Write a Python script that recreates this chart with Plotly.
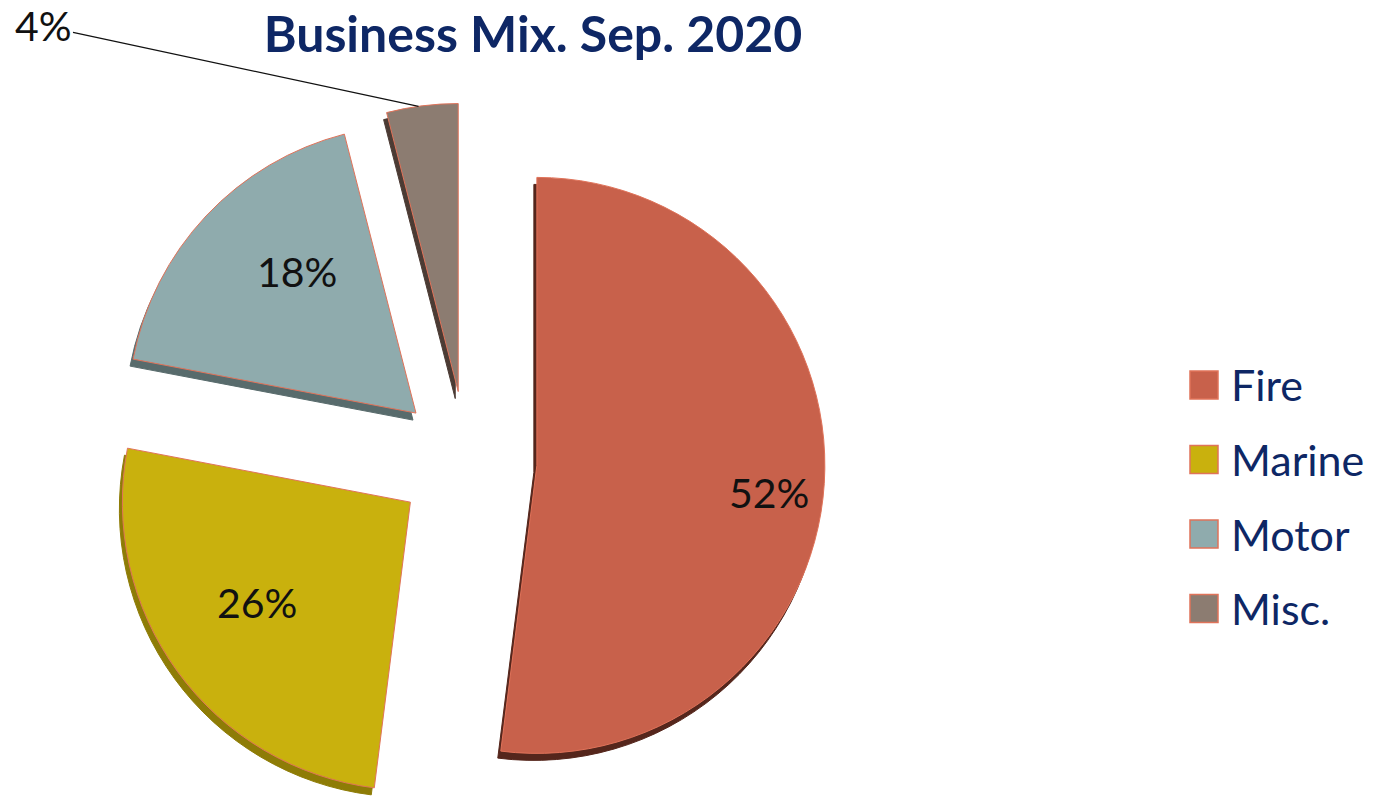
import math
import plotly.graph_objects as go

# Business mix by class of insurance, September 2020 (share of premium, %)
labels = ["Fire", "Marine", "Motor", "Misc."]
shares = [52, 26, 18, 4]
face_colors = ["#C8614B", "#C9B10D", "#8FABAD", "#8C7C71"]
side_colors = ["#55261C", "#8E7C06", "#586B6C", "#4B3B34"]
edge_color = "#E0735A"
navy = "#0E2765"
clear = "rgba(0,0,0,0)"

W, H = 1386, 798
CX, CY = 467, 461          # centre of the un-exploded pie, px from top-left
R = 288                    # slice radius, px
EXPLODE = 70               # distance each slice is pulled out, px
DEPTH = (-3, 7)            # offset of the extruded side, px
LABEL_R = 0.81             # radial position of the value labels

total = sum(shares)
starts, mids = [], []
acc = 0.0
for v in shares:
    starts.append(acc / total * 360)
    mids.append((acc + v / 2) / total * 360)
    acc += v


def apex(i):
    a = math.radians(mids[i])
    return CX + EXPLODE * math.sin(a), CY - EXPLODE * math.cos(a)


def box(cx, cy):
    return dict(x=[(cx - R) / W, (cx + R) / W],
                y=[max(0.0, 1 - (cy + R) / H), min(1.0, 1 - (cy - R) / H)])


fig = go.Figure()

# each slice is its own pie so it can be pushed out from the common centre;
# a darker copy drawn first gives the slices some thickness
for layer, cols, line_col, dx, dy in (
    ("side", side_colors, None, DEPTH[0], DEPTH[1]),
    ("face", face_colors, edge_color, 0, 0),
):
    for i, v in enumerate(shares):
        ax_, ay_ = apex(i)
        fig.add_trace(go.Pie(
            name=f"{labels[i]} ({layer})",
            labels=[labels[i], "rest"], values=[v, total - v],
            sort=False, direction="clockwise", rotation=starts[i],
            domain=box(ax_ + dx, ay_ + dy),
            marker=dict(colors=[cols[i], clear],
                        line=dict(color=[line_col or cols[i], clear], width=1)),
            textinfo="none", showlegend=False,
            hoverinfo="skip" if layer == "side" else "label+text",
            text=[f"{v}%", ""],
        ))

label_font = dict(family="Lato", size=41, color="#111111")

# value labels inside the larger slices
for i, v in enumerate(shares):
    if v < 10:
        continue
    ax_, ay_ = apex(i)
    a = math.radians(mids[i] + 3)
    x = ax_ + LABEL_R * R * math.sin(a)
    y = ay_ - LABEL_R * R * math.cos(a)
    fig.add_annotation(x=x / W, y=1 - y / H, xref="paper", yref="paper",
                       text=f"{v}%", showarrow=False, font=label_font)

# leader label for the small slice, pointing at its outer arc
i = 3
ax_, ay_ = apex(i)
tip_a = math.radians(starts[i] + 0.45 * shares[i] / total * 360)
tip_x = ax_ + R * math.sin(tip_a)
tip_y = ay_ - R * math.cos(tip_a)
fig.add_annotation(
    x=tip_x / W, y=1 - tip_y / H, xref="paper", yref="paper",
    text=f"{shares[i]}%", showarrow=True, arrowhead=0, arrowwidth=1.3,
    arrowcolor="#111111", standoff=0, ax=43 - tip_x, ay=26 - tip_y,
    font=label_font,
)

# legend: coloured squares with class names
for i, (name, col) in enumerate(zip(labels, face_colors)):
    yc = 385 + i * 74.5
    fig.add_shape(
        type="rect", xref="paper", yref="paper",
        x0=1190 / W, x1=1218 / W, y0=1 - (yc + 14) / H, y1=1 - (yc - 14) / H,
        fillcolor=col, line=dict(color=edge_color, width=1.5),
    )
    fig.add_annotation(
        x=1229 / W, y=1 - yc / H, xref="paper", yref="paper",
        xanchor="left", yanchor="middle", showarrow=False, text=name,
        font=dict(family="Lato", size=43, color=navy),
    )

fig.update_layout(
    width=W, height=H,
    margin=dict(l=0, r=0, t=0, b=0),
    paper_bgcolor="white", plot_bgcolor="white",
    title=dict(
        text="<b>Business Mix. Sep. 2020</b>", x=533 / W, xanchor="center",
        y=1 - 34 / H, yanchor="middle", yref="container",
        font=dict(family="Lato", size=50, color=navy),
    ),
)

fig.write_html("out.html")
